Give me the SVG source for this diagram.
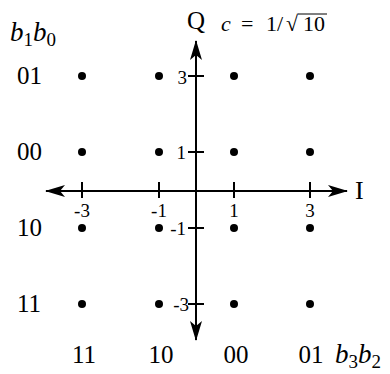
<svg xmlns="http://www.w3.org/2000/svg" width="390" height="374" viewBox="0 0 390 374">
<style>
text{font-family:"Liberation Serif","Times New Roman",serif;fill:#000}
.lab{font-size:25px}
.tk{font-size:19px;text-anchor:middle}
.tv{font-size:19px;text-anchor:end}
.sub{font-size:19px}
.ax{stroke:#000;stroke-width:2;fill:none}
.dot{fill:#000}
</style>
<defs>
<marker id="ah" markerWidth="20" markerHeight="12" refX="19" refY="6" orient="auto" markerUnits="userSpaceOnUse">
<path d="M0,0 L20,6 L0,12 L5,6 Z" fill="#000"/>
</marker>
</defs>
<rect width="390" height="374" fill="#fff"/>
<g id="connectors">
<line class="ax" x1="196" y1="191" x2="347" y2="191" marker-end="url(#ah)"/>
<line class="ax" x1="196" y1="191" x2="46" y2="191" marker-end="url(#ah)"/>
<line class="ax" x1="196" y1="191" x2="196" y2="41" marker-end="url(#ah)"/>
<line class="ax" x1="196" y1="191" x2="196" y2="340" marker-end="url(#ah)"/>
<g class="ax">
<line x1="82" y1="182" x2="82" y2="198"/>
<line x1="159" y1="182" x2="159" y2="198"/>
<line x1="234" y1="182" x2="234" y2="198"/>
<line x1="310" y1="182" x2="310" y2="198"/>
<line x1="188" y1="76" x2="204" y2="76"/>
<line x1="188" y1="152" x2="204" y2="152"/>
<line x1="188" y1="228" x2="204" y2="228"/>
<line x1="188" y1="304" x2="204" y2="304"/>
</g>
</g>
<g id="ticklabels">
<text class="tk" x="82" y="217">-3</text>
<text class="tk" x="159" y="217">-1</text>
<text class="tk" x="234" y="217">1</text>
<text class="tk" x="310" y="217">3</text>
<text class="tv" x="187" y="84">3</text>
<text class="tv" x="186" y="159">1</text>
<text class="tv" x="186" y="235">-1</text>
<text class="tv" x="189" y="311">-3</text>
</g>
<g id="axislabels">
<text x="187" y="29" style="font-size:25px">Q</text>
<text x="355" y="199" style="font-size:26px">I</text>
<g style="font-size:22px">
<text x="221" y="31" font-style="italic">c</text>
<text x="241" y="31">=</text>
<text x="266" y="31">1/</text>
<text x="286" y="31">√</text>
<text x="303" y="31">10</text>
</g>
<line x1="298" y1="14" x2="327" y2="14" stroke="#000" stroke-width="1"/>
</g>
<g id="rowlabels">
<text x="10" y="41" style="font-size:27px"><tspan font-style="italic">b</tspan><tspan class="sub" dy="5">1</tspan><tspan font-style="italic" dy="-5">b</tspan><tspan class="sub" dy="5">0</tspan></text>
<text x="17" y="84" class="lab">01</text>
<text x="17" y="160" class="lab">00</text>
<text x="17" y="236" class="lab">10</text>
<text x="17" y="312" class="lab">11</text>
</g>
<g id="collabels">
<text x="84" y="363" class="lab" text-anchor="middle">11</text>
<text x="161" y="363" class="lab" text-anchor="middle">10</text>
<text x="236" y="363" class="lab" text-anchor="middle">00</text>
<text x="311" y="363" class="lab" text-anchor="middle">01</text>
<text x="335" y="363" style="font-size:27px"><tspan font-style="italic">b</tspan><tspan class="sub" dy="5">3</tspan><tspan font-style="italic" dy="-5">b</tspan><tspan class="sub" dy="5">2</tspan></text>
</g>
<g id="points">
<circle class="dot" cx="82" cy="76" r="4"/><circle class="dot" cx="159" cy="76" r="4"/><circle class="dot" cx="234" cy="76" r="4"/><circle class="dot" cx="310" cy="76" r="4"/>
<circle class="dot" cx="82" cy="152" r="4"/><circle class="dot" cx="159" cy="152" r="4"/><circle class="dot" cx="234" cy="152" r="4"/><circle class="dot" cx="310" cy="152" r="4"/>
<circle class="dot" cx="82" cy="228" r="4"/><circle class="dot" cx="159" cy="228" r="4"/><circle class="dot" cx="234" cy="228" r="4"/><circle class="dot" cx="310" cy="228" r="4"/>
<circle class="dot" cx="82" cy="304" r="4"/><circle class="dot" cx="159" cy="304" r="4"/><circle class="dot" cx="234" cy="304" r="4"/><circle class="dot" cx="310" cy="304" r="4"/>
</g>
</svg>
